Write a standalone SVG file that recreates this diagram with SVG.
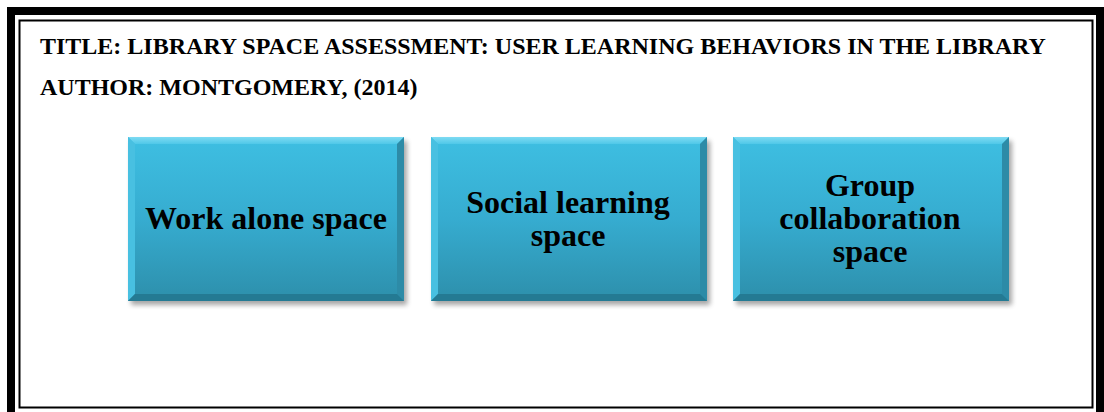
<svg xmlns="http://www.w3.org/2000/svg" width="1104" height="412" viewBox="0 0 1104 412">
<defs>
<linearGradient id="face" x1="0" y1="0" x2="0" y2="1">
<stop offset="0" stop-color="#3ebfe2"/>
<stop offset="0.5" stop-color="#36acd0"/>
<stop offset="1" stop-color="#2d8fab"/>
</linearGradient>
<linearGradient id="topb" x1="0" y1="0" x2="0" y2="1">
<stop offset="0" stop-color="#7fdbf3"/>
<stop offset="1" stop-color="#4fc8e8"/>
</linearGradient>
<filter id="sh" x="-10%" y="-10%" width="130%" height="130%">
<feGaussianBlur stdDeviation="2.5"/>
</filter>
<g id="box">
<rect x="3" y="4" width="276" height="164" fill="#000" opacity="0.35" filter="url(#sh)"/>
<rect x="0" y="0" width="276" height="164" fill="url(#face)"/>
<polygon points="0,0 276,0 269,7 7,7" fill="url(#topb)"/>
<polygon points="0,0 7,7 7,157 0,164" fill="#48c0e1"/>
<polygon points="276,0 276,164 269,157 269,7" fill="#2d8ba7"/>
<polygon points="0,164 7,157 269,157 276,164" fill="#247a93"/>
</g>
</defs>
<style>
.t{font-family:"Liberation Serif","Times New Roman",serif;font-weight:bold;fill:#000}
.h{font-size:24px}
.b{font-size:32px;text-anchor:middle}
</style>
<rect width="1104" height="412" fill="#fff"/>
<g id="frame">
<path d="M11,412 V11 H1100 V412" fill="none" stroke="#000" stroke-width="8"/>
<rect x="19.5" y="20.5" width="1073" height="387" fill="none" stroke="#000" stroke-width="2"/>
</g>
<g id="header">
<text class="t h" x="40" y="54">TITLE: LIBRARY SPACE ASSESSMENT: USER LEARNING BEHAVIORS IN THE LIBRARY</text>
<text class="t h" x="40" y="95">AUTHOR: MONTGOMERY, (2014)</text>
</g>
<g id="node1">
<use href="#box" x="128" y="137"/>
<text class="t b" x="266" y="229">Work alone space</text>
</g>
<g id="node2">
<use href="#box" x="431" y="137"/>
<text class="t b" x="568" y="213">Social learning</text>
<text class="t b" x="568" y="246">space</text>
</g>
<g id="node3">
<use href="#box" x="733" y="137"/>
<text class="t b" x="870" y="196">Group</text>
<text class="t b" x="870" y="229">collaboration</text>
<text class="t b" x="870" y="262">space</text>
</g>
<g id="connectors"></g>
</svg>
